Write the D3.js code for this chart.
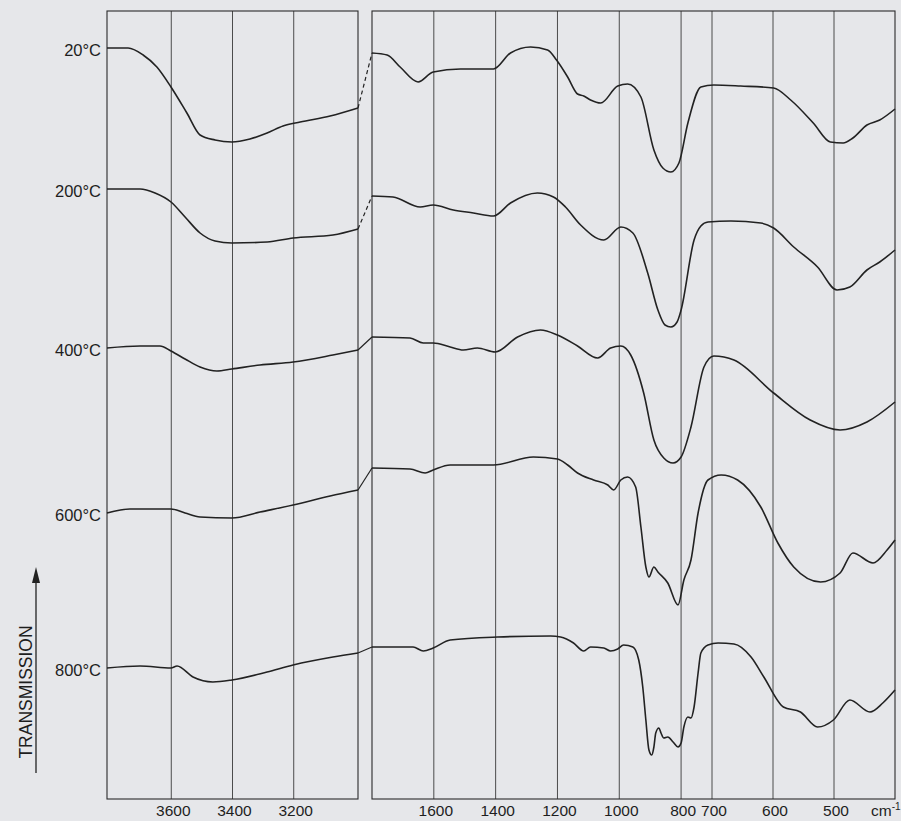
<!DOCTYPE html>
<html>
<head>
<meta charset="utf-8">
<script src="https://cdn.jsdelivr.net/npm/d3@7"></script>
<style>
  body { margin: 0; background: #e6e7ea; }
  svg { display: block; }
  text { font-family: "Liberation Sans", Arial, sans-serif; fill: #1e1e1e; }
</style>
</head>
<body>
<svg width="901" height="821"></svg>
<script>
// Eixos: números de onda (cm-1), escala quebrada.
const leftTicks = [3600, 3400, 3200];
const rightTicks = [1600, 1400, 1200, 1000, 800, 700, 600, 500];
const tempLabels = ["20°C", "200°C", "400°C", "600°C", "800°C"];

// Espectros [número de onda, transmissão] — parte 3800-3000 e parte 1800-400.
const t20Left = [[3810,75.1],[3741,75.1],[3692,74.4],[3647,73.2],[3601,71.2],[3549,68.6],[3506,66.4],[3457,65.9],[3402,65.7],[3343,66.0],[3287,66.6],[3235,67.3],[3179,67.7],[3081,68.3],[2990,69.1]];
const t20Right = [[1800,74.6],[1751,74.4],[1709,73.2],[1651,71.7],[1602,72.7],[1514,73.0],[1407,73.0],[1352,74.6],[1287,75.2],[1232,74.9],[1203,73.9],[1167,72.2],[1135,70.5],[1115,70.3],[1093,69.9],[1060,69.6],[1005,71.3],[973,71.5],[930,70.2],[888,64.9],[859,63.1],[833,62.7],[807,63.6],[778,67.6],[736,71.2],[697,71.4],[653,71.3],[599,71.1],[571,69.9],[534,67.6],[506,65.7],[485,65.6],[469,66.1],[446,67.4],[425,67.9],[400,69.0]];

const t200Left = [[3810,61.0],[3702,61.0],[3653,60.6],[3601,59.7],[3555,58.2],[3506,56.6],[3457,55.8],[3402,55.6],[3287,55.7],[3202,56.1],[3072,56.4],[2990,57.0]];
const t200Right = [[1800,60.3],[1732,60.2],[1644,59.2],[1602,59.4],[1537,58.9],[1472,58.6],[1407,58.3],[1352,59.6],[1265,60.6],[1213,60.2],[1174,59.2],[1125,57.4],[1050,55.9],[995,57.2],[956,56.6],[908,52.6],[875,48.9],[852,47.4],[833,47.2],[813,47.7],[800,48.9],[758,55.9],[736,57.3],[713,57.7],[669,57.8],[620,57.6],[599,57.1],[566,55.2],[527,53.2],[495,50.9],[474,51.2],[446,52.9],[425,53.7],[400,54.9]];

const t400Left = [[3810,45.1],[3702,45.3],[3637,45.3],[3601,44.8],[3555,44.0],[3506,43.2],[3451,42.8],[3402,43.0],[3310,43.4],[3202,43.7],[3072,44.4],[2990,44.9]];
const t400Right = [[1800,46.2],[1677,46.1],[1634,45.6],[1602,45.6],[1547,45.2],[1505,44.9],[1459,45.1],[1401,44.7],[1329,46.2],[1255,46.9],[1200,46.4],[1135,45.3],[1070,44.1],[1028,45.1],[995,45.3],[963,44.4],[921,40.6],[888,35.9],[856,34.1],[826,33.6],[800,34.2],[768,37.2],[726,43.2],[697,44.3],[664,43.9],[599,40.6],[539,37.9],[490,36.9],[446,37.7],[400,39.7]];

const t600Left = [[3810,28.6],[3735,29.0],[3601,29.0],[3555,28.6],[3506,28.2],[3402,28.1],[3310,28.7],[3202,29.4],[3081,30.3],[2990,30.9]];
const t600Right = [[1800,33.1],[1677,33.0],[1628,32.6],[1602,32.9],[1547,33.4],[1407,33.4],[1278,34.2],[1200,34.0],[1167,33.4],[1135,32.6],[1083,31.9],[1037,31.4],[1018,30.9],[995,31.9],[973,32.2],[947,31.2],[930,27.2],[914,23.2],[904,22.2],[888,23.2],[875,22.7],[843,21.6],[810,19.4],[791,21.9],[768,23.9],[745,28.6],[713,31.9],[685,32.4],[658,31.9],[620,29.2],[592,25.6],[566,23.2],[522,21.7],[490,22.6],[469,24.6],[436,23.6],[413,24.9],[400,25.9]];

const t800Left = [[3810,13.1],[3702,13.3],[3601,13.1],[3581,13.3],[3529,12.2],[3464,11.7],[3402,11.9],[3287,12.7],[3202,13.4],[3072,14.2],[2990,14.6]];
const t800Right = [[1800,15.2],[1667,15.2],[1634,14.8],[1602,15.1],[1547,15.9],[1394,16.2],[1222,16.3],[1190,16.2],[1148,15.6],[1115,14.8],[1093,15.2],[1050,15.1],[1028,14.8],[1005,15.0],[986,15.4],[956,15.2],[937,13.9],[924,11.2],[914,7.9],[904,4.9],[895,4.4],[888,5.2],[882,6.6],[872,7.1],[865,6.6],[856,6.1],[843,6.2],[826,5.7],[810,5.2],[800,5.6],[791,7.2],[778,8.2],[768,8.1],[758,9.2],[745,12.6],[736,14.6],[713,15.4],[690,15.6],[664,15.5],[636,14.2],[615,12.2],[583,9.2],[555,8.7],[527,7.2],[501,7.9],[474,9.9],[441,8.7],[420,9.6],[400,10.9]];

const series = [
    { label: tempLabels[0], left: t20Left, right: t20Right, dashed: true },
    { label: tempLabels[1], left: t200Left, right: t200Right, dashed: true },
    { label: tempLabels[2], left: t400Left, right: t400Right, dashed: false },
    { label: tempLabels[3], left: t600Left, right: t600Right, dashed: false },
    { label: tempLabels[4], left: t800Left, right: t800Right, dashed: false }
];

const svg = d3.select("svg");

// Escala X quebrada (3800-3000 | 1800-700 | 700-400 com escala dobrada).
const xScale = d3.scaleLinear()
    .domain([3810, 2990, 1800, 700, 400])
    .range([107, 358, 372, 712, 895]);

// Escala Y (transmissão, unidades arbitrárias).
const yScale = d3.scaleLinear()
    .domain([0, 78.8])
    .range([799, 11]);

const yTop = yScale.range()[1];
const yBottom = yScale.range()[0];

// Linhas de grade verticais.
svg.append("g")
    .selectAll("line")
    .data(leftTicks.concat(rightTicks))
    .enter()
    .append("line")
    .attr("x1", d => xScale(d))
    .attr("x2", d => xScale(d))
    .attr("y1", yTop)
    .attr("y2", yBottom)
    .attr("stroke", "#3a3a3a")
    .attr("stroke-width", 0.9);

// Molduras dos dois painéis.
const panels = [[3810, 2990], [1800, 400]];
svg.append("g")
    .selectAll("rect")
    .data(panels)
    .enter()
    .append("rect")
    .attr("x", d => xScale(d[0]))
    .attr("y", yTop)
    .attr("width", d => xScale(d[1]) - xScale(d[0]))
    .attr("height", yBottom - yTop)
    .attr("fill", "none")
    .attr("stroke", "#2a2a2a")
    .attr("stroke-width", 1.1);

// Rótulos do eixo X.
const xLabels = svg.append("g")
    .attr("font-size", 15.5)
    .attr("text-anchor", "middle");
xLabels.selectAll("text")
    .data(leftTicks.concat(rightTicks))
    .enter()
    .append("text")
    .attr("x", d => xScale(d) + 2)
    .attr("y", 816)
    .text(d => d);

const unit = svg.append("text")
    .attr("x", xScale(400) - 24)
    .attr("y", 816)
    .attr("font-size", 15.5);
unit.append("tspan").text("cm");
unit.append("tspan").attr("dy", -6).attr("font-size", 10).text("-1");

// Espectros.
const line = d3.line()
    .x(d => xScale(d[0]))
    .y(d => yScale(d[1]))
    .curve(d3.curveMonotoneX);

const curves = svg.append("g")
    .attr("fill", "none")
    .attr("stroke", "#222")
    .attr("stroke-width", 1.6)
    .attr("stroke-linejoin", "round");

series.forEach(s => {
    curves.append("path").attr("d", line(s.left));
    curves.append("path").attr("d", line(s.right));
    // Ligação entre os dois painéis.
    curves.append("path")
        .attr("d", d3.line().x(d => xScale(d[0])).y(d => yScale(d[1]))([s.left[s.left.length - 1], s.right[0]]))
        .attr("stroke-width", 1.2)
        .attr("stroke-dasharray", s.dashed ? "4,3" : null);
});

// Rótulos das temperaturas.
svg.append("g")
    .attr("font-size", 16.5)
    .attr("text-anchor", "end")
    .selectAll("text")
    .data(series)
    .enter()
    .append("text")
    .attr("x", 101)
    .attr("y", d => yScale(d.left[0][1]) + 2)
    .attr("dominant-baseline", "central")
    .text(d => d.label);

// Eixo Y: seta e título.
svg.append("line")
    .attr("x1", 36)
    .attr("x2", 36)
    .attr("y1", 773)
    .attr("y2", 578)
    .attr("stroke", "#222")
    .attr("stroke-width", 1.3);

svg.append("path")
    .attr("d", d3.line()([[36, 567], [40, 583], [32, 583]]) + "Z")
    .attr("fill", "#222");

svg.append("text")
    .attr("transform", "translate(26, 692) rotate(-90)")
    .attr("text-anchor", "middle")
    .attr("dominant-baseline", "central")
    .attr("font-size", 17.5)
    .text("TRANSMISSION");
</script>
</body>
</html>
